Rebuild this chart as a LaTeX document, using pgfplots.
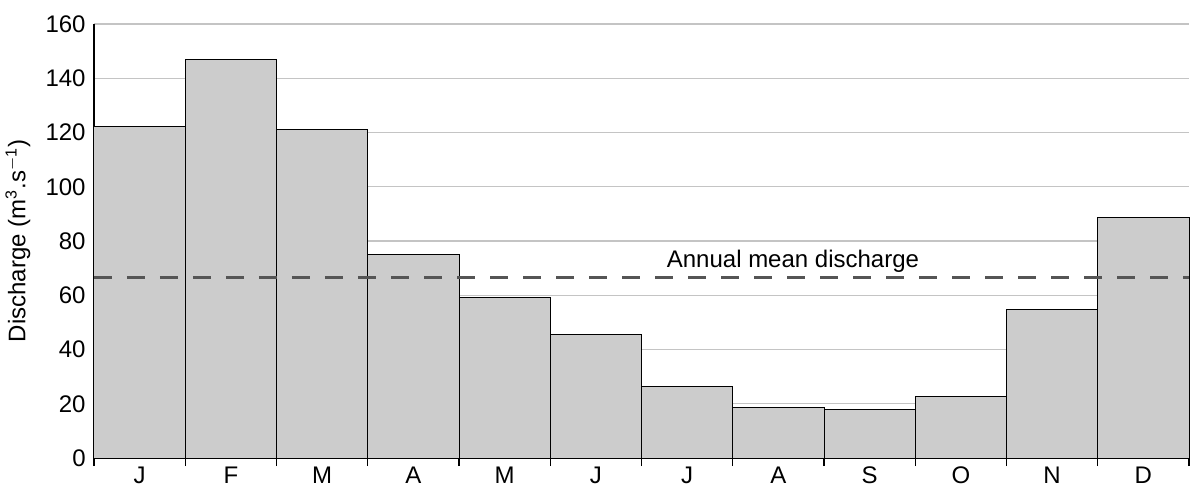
\documentclass[border=0pt]{standalone}
\usepackage{fontspec}
\setmainfont{Liberation Sans}
\usepackage{pgfplots}
\pgfplotsset{compat=1.18}
\definecolor{barfill}{HTML}{CCCCCC}
\definecolor{gridc}{HTML}{C4C4C4}
\definecolor{meanc}{HTML}{555555}
\begin{document}
\fontsize{12}{14}\selectfont
\begin{tikzpicture}
\path[use as bounding box] (-47pt,-15pt) rectangle (548.5pt,229pt);
\begin{axis}[
  scale only axis,
  width=547.5pt, height=217pt,
  xmin=-0.5, xmax=11.5,
  ymin=0, ymax=160,
  ytick={0,20,...,160},
  xtick={0,...,11},
  xticklabels={J,F,M,A,M,J,J,A,S,O,N,D},
  minor xtick={-0.5,0.5,...,11.5},
  major tick length=0pt,
  minor tick length=4pt,
  tick align=outside,
  axis x line*=bottom,
  axis y line*=left,
  axis line style={black, line width=0.8pt},
  every tick/.style={black, line width=0.6pt},
  ymajorgrids,
  major grid style={gridc, line width=0.6pt},
  /pgf/number format/assume math mode=true,
  ticklabel style={font=\fontsize{12}{14}\selectfont},
  xticklabel style={anchor=base, yshift=-12.5pt},
  ylabel={Discharge (m\textsuperscript{3}.s\textsuperscript{$-$1})},
  ylabel style={at={(axis description cs:-0.0694,0.5)}, anchor=center, font=\fontsize{12}{14}\selectfont},
  clip=false,
]
\addplot[ybar, bar width=1, bar shift=0, fill=barfill, draw=black, line width=0.5pt]
  coordinates {(0,122.2) (1,146.9) (2,121.1) (3,74.9) (4,59.1) (5,45.4) (6,26.2) (7,18.8) (8,17.7) (9,22.5) (10,54.9) (11,88.6)};
\addplot[meanc, line width=1.5pt, dash pattern=on 9pt off 7.5pt, forget plot]
  coordinates {(-0.5,66.4) (11.5,66.4)};
\node[font=\fontsize{12}{14}\selectfont] at (axis cs:7.16,72.4) {Annual mean discharge};
\end{axis}
\end{tikzpicture}
\end{document}
